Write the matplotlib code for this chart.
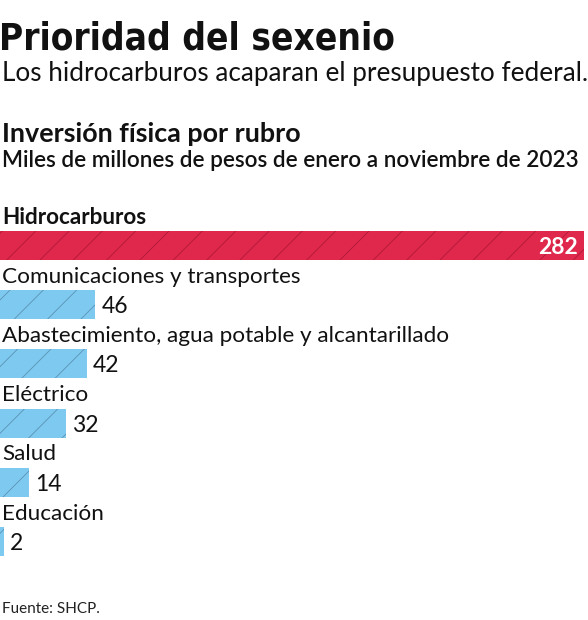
import matplotlib
matplotlib.use('Agg')
import matplotlib.pyplot as plt
from matplotlib import font_manager

# data
categories = ['Hidrocarburos', 'Comunicaciones y transportes',
              'Abastecimiento, agua potable y alcantarillado',
              'Eléctrico', 'Salud', 'Educación']
values = [282, 46, 42, 32, 14, 2]

W, H, DPI = 588, 620, 100
RED, RED_HATCH = '#E0274C', '#B01A38'
BLUE, BLUE_HATCH = '#7EC9EF', '#5B93B5'

names = {f.name for f in font_manager.fontManager.ttflist}
body = 'Lato' if 'Lato' in names else 'DejaVu Sans'

# look for any condensed / narrow bold face for the headline
narrow_file = None
for f in font_manager.fontManager.ttflist:
    tag = (f.fname + f.name).lower()
    if ('narrow' in tag or 'condensed' in tag or f.stretch in ('condensed', 'semi-condensed')) \
            and 'bold' in f.fname.lower() and 'italic' not in f.fname.lower() \
            and 'oblique' not in f.fname.lower():
        narrow_file = f.fname
        break
if narrow_file:
    title_font = dict(fontproperties=font_manager.FontProperties(fname=narrow_file, size=26.5))
else:
    title_font = dict(family='DejaVu Sans', weight='bold', fontsize=21)

fig = plt.figure(figsize=(W / DPI, H / DPI), dpi=DPI)


def ftext(x, y, s, **kw):
    # x, y in pixels from the top-left corner
    fig.text(x / W, 1 - y / H, s, **kw)


ftext(-1, 50, 'Prioridad del sexenio', va='baseline', color='#111111', **title_font)
ftext(2, 81, 'Los hidrocarburos acaparan el presupuesto federal.', family=body,
      fontsize=18.8, va='baseline', color='#111111')
ftext(2, 142, 'Inversión física por rubro', family=body, weight='bold',
      fontsize=19.4, va='baseline', color='#111111')
ftext(2, 167, 'Miles de millones de pesos de enero a noviembre de 2023', family=body,
      weight='semibold', fontsize=16.2, va='baseline', color='#111111')
ftext(2, 613, 'Fuente: SHCP.', family=body, fontsize=11, va='baseline', color='#222222')

# bars: centres from y=245.5 to 541.5 px, spacing 59.2 px
top_c, step = 245.5, 59.2
y0 = top_c - step / 2
y1 = top_c + step * (len(values) - 0.5)
ax = fig.add_axes([0, 1 - y1 / H, 1, (y1 - y0) / H])
ax.set_xlim(0, 284)
ax.set_ylim(len(values) - 0.5, -0.5)
ax.axis('off')

plt.rcParams['hatch.linewidth'] = 0.6
for i, (cat, val) in enumerate(zip(categories, values)):
    face, hatch_col = (RED, RED_HATCH) if i == 0 else (BLUE, BLUE_HATCH)
    ax.barh(i, val, height=29 / step, color=face, edgecolor=hatch_col,
            linewidth=0, hatch='/')
    ax.text(1, i - 0.37, cat, ha='left', va='baseline', family=body,
            weight='bold' if i == 0 else 'normal', fontsize=16.2, color='#111111')
    if i == 0:
        ax.text(val - 3, i, str(val), ha='right', va='center_baseline', family=body,
                weight='bold', fontsize=16.5, color='white')
    else:
        ax.text(val + 3, i, str(val), ha='left', va='center_baseline', family=body,
                fontsize=16.5, color='#111111')

fig.savefig('out.png', dpi=DPI)
